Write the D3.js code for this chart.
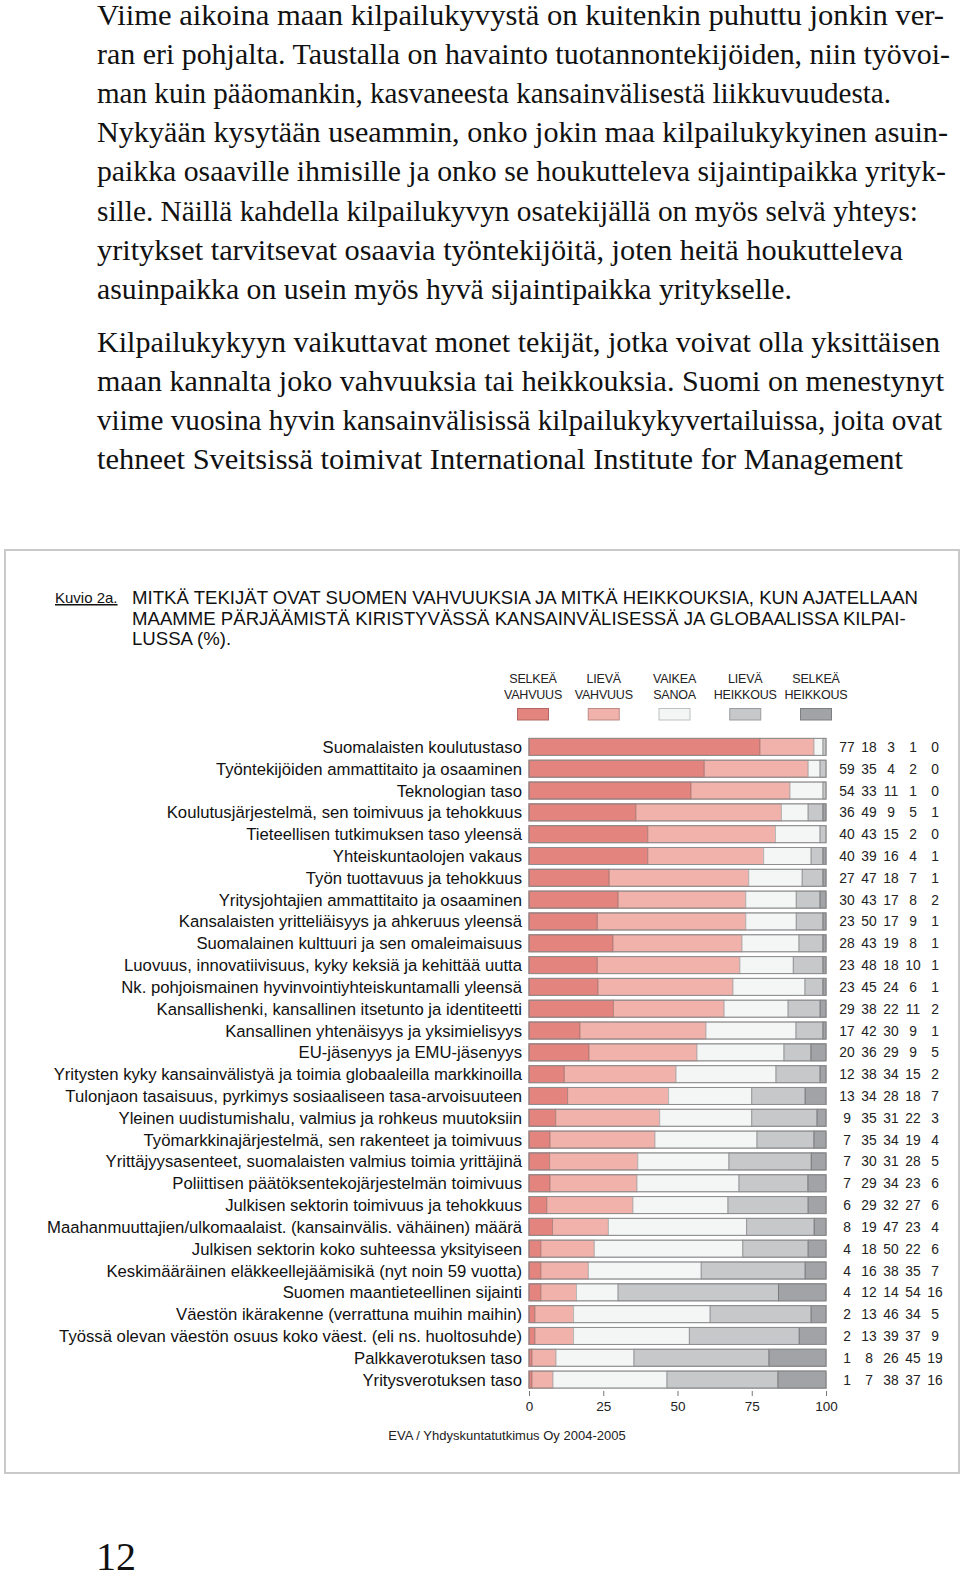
<!DOCTYPE html>
<html>
<head>
<meta charset="utf-8">
<script src="https://cdn.jsdelivr.net/npm/d3@7"></script>
<style>
  body { margin: 0; background: #fff; }
  svg { display: block; }
</style>
</head>
<body>
<div id="page"></div>
<script>
// body text of the page (line by line, as typeset)
var para1 = [
  "Viime aikoina maan kilpailukyvystä on kuitenkin puhuttu jonkin ver-",
  "ran eri pohjalta. Taustalla on havainto tuotannontekijöiden, niin työvoi-",
  "man kuin pääomankin, kasvaneesta kansainvälisestä liikkuvuudesta.",
  "Nykyään kysytään useammin, onko jokin maa kilpailukykyinen asuin-",
  "paikka osaaville ihmisille ja onko se houkutteleva sijaintipaikka yrityk-",
  "sille. Näillä kahdella kilpailukyvyn osatekijällä on myös selvä yhteys:",
  "yritykset tarvitsevat osaavia työntekijöitä, joten heitä houkutteleva",
  "asuinpaikka on usein myös hyvä sijaintipaikka yritykselle."
]
var para2 = [
  "Kilpailukykyyn vaikuttavat monet tekijät, jotka voivat olla yksittäisen",
  "maan kannalta joko vahvuuksia tai heikkouksia. Suomi on menestynyt",
  "viime vuosina hyvin kansainvälisissä kilpailukykyvertailuissa, joita ovat",
  "tehneet Sveitsissä toimivat International Institute for Management"
]
// measured right edges of the typeset lines
var para1Ends = [944, 950, 891, 948, 946, 918, 903, 792]
var para2Ends = [940, 944, 942, 903]

var titleLines = [
  "MITKÄ TEKIJÄT OVAT SUOMEN VAHVUUKSIA JA MITKÄ HEIKKOUKSIA, KUN AJATELLAAN",
  "MAAMME PÄRJÄÄMISTÄ KIRISTYVÄSSÄ KANSAINVÄLISESSÄ JA GLOBAALISSA KILPAI-",
  "LUSSA (%)."
]

var seriesNames = [
  ["SELKEÄ", "VAHVUUS"],
  ["LIEVÄ", "VAHVUUS"],
  ["VAIKEA", "SANOA"],
  ["LIEVÄ", "HEIKKOUS"],
  ["SELKEÄ", "HEIKKOUS"]
]
var seriesKeys = ["sv", "lv", "vs", "lh", "sh"]
var seriesColors = ["#e4847f", "#f1b2ab", "#f4f5f5", "#c7c8ca", "#a2a3a6"]

var categories = [
  "Suomalaisten koulutustaso",
  "Työntekijöiden ammattitaito ja osaaminen",
  "Teknologian taso",
  "Koulutusjärjestelmä, sen toimivuus ja tehokkuus",
  "Tieteellisen tutkimuksen taso yleensä",
  "Yhteiskuntaolojen vakaus",
  "Työn tuottavuus ja tehokkuus",
  "Yritysjohtajien ammattitaito ja osaaminen",
  "Kansalaisten yritteliäisyys ja ahkeruus yleensä",
  "Suomalainen kulttuuri ja sen omaleimaisuus",
  "Luovuus, innovatiivisuus, kyky keksiä ja kehittää uutta",
  "Nk. pohjoismainen hyvinvointiyhteiskuntamalli yleensä",
  "Kansallishenki, kansallinen itsetunto ja identiteetti",
  "Kansallinen yhtenäisyys ja yksimielisyys",
  "EU-jäsenyys ja EMU-jäsenyys",
  "Yritysten kyky kansainvälistyä ja toimia globaaleilla markkinoilla",
  "Tulonjaon tasaisuus, pyrkimys sosiaaliseen tasa-arvoisuuteen",
  "Yleinen uudistumishalu, valmius ja rohkeus muutoksiin",
  "Työmarkkinajärjestelmä, sen rakenteet ja toimivuus",
  "Yrittäjyysasenteet, suomalaisten valmius toimia yrittäjinä",
  "Poliittisen päätöksentekojärjestelmän toimivuus",
  "Julkisen sektorin toimivuus ja tehokkuus",
  "Maahanmuuttajien/ulkomaalaist. (kansainvälis. vähäinen) määrä",
  "Julkisen sektorin koko suhteessa yksityiseen",
  "Keskimääräinen eläkkeellejäämisikä (nyt noin 59 vuotta)",
  "Suomen maantieteellinen sijainti",
  "Väestön ikärakenne (verrattuna muihin maihin)",
  "Työssä olevan väestön osuus koko väest. (eli ns. huoltosuhde)",
  "Palkkaverotuksen taso",
  "Yritysverotuksen taso"
]

var selkeaVahvuus  = [77, 59, 54, 36, 40, 40, 27, 30, 23, 28, 23, 23, 29, 17, 20, 12, 13,  9,  7,  7,  7,  6,  8,  4,  4,  4,  2,  2,  1,  1]
var lievaVahvuus   = [18, 35, 33, 49, 43, 39, 47, 43, 50, 43, 48, 45, 38, 42, 36, 38, 34, 35, 35, 30, 29, 29, 19, 18, 16, 12, 13, 13,  8,  7]
var vaikeaSanoa    = [ 3,  4, 11,  9, 15, 16, 18, 17, 17, 19, 18, 24, 22, 30, 29, 34, 28, 31, 34, 31, 34, 32, 47, 50, 38, 14, 46, 39, 26, 38]
var lievaHeikkous  = [ 1,  2,  1,  5,  2,  4,  7,  8,  9,  8, 10,  6, 11,  9,  9, 15, 18, 22, 19, 28, 23, 27, 23, 22, 35, 54, 34, 37, 45, 37]
var selkeaHeikkous = [ 0,  0,  0,  1,  0,  1,  1,  2,  1,  1,  1,  1,  2,  1,  5,  2,  7,  3,  4,  5,  6,  6,  4,  6,  7, 16,  5,  9, 19, 16]

var tickValues = [0, 25, 50, 75, 100]
var sourceText = "EVA / Yhdyskuntatutkimus Oy 2004-2005"
var pageNumber = "12"

var seriesValues = [selkeaVahvuus, lievaVahvuus, vaikeaSanoa, lievaHeikkous, selkeaHeikkous]
var table = categories.map(function(c, i) {
	var row = {cat: c}
	seriesKeys.forEach(function(k, j) { row[k] = seriesValues[j][i] })
	return row
})

var width = 960, height = 1580
var svg = d3.select("#page").append("svg")
    .attr("width", width)
    .attr("height", height)

var serif = "'Liberation Serif', 'DejaVu Serif', serif"
var sans = "'Liberation Sans', Arial, sans-serif"

// ---- body text
function drawPara(lines, ends, y0) {
	svg.append("g").selectAll("text")
		.data(lines)
		.enter()
		.append("text")
		.attr("x", 97)
		.attr("y", function(d, i) { return y0 + i * 39.1 })
		.attr("textLength", function(d, i) { return ends[i] - 97 })
		.attr("lengthAdjust", "spacingAndGlyphs")
		.style("font-family", serif)
		.style("font-size", "29px")
		.style("fill", "#111")
		.text(function(d) { return d })
}
drawPara(para1, para1Ends, 25)
drawPara(para2, para2Ends, 352)

// ---- chart frame
svg.append("rect")
    .attr("x", 5)
    .attr("y", 550)
    .attr("width", 954)
    .attr("height", 923)
    .style("fill", "#fff")
    .style("stroke", "#c9c9c9")
    .style("stroke-width", 2)

svg.append("text")
    .attr("x", 55)
    .attr("y", 603)
    .style("font-family", sans)
    .style("font-size", "15px")
    .style("text-decoration", "underline")
    .style("fill", "#111")
    .text("Kuvio 2a.")

svg.append("g").selectAll("text")
    .data(titleLines)
    .enter()
    .append("text")
    .attr("x", 132)
    .attr("y", function(d, i) { return 604 + i * 20.6 })
    .style("font-family", sans)
    .style("font-size", "18.6px")
    .style("fill", "#111")
    .text(function(d) { return d })

// ---- scales
var x = d3.scaleLinear().domain([0, 100]).range([529, 826])
var y = d3.scaleBand().domain(categories).range([736, 1390.5]).paddingInner(0.22).paddingOuter(0.11)
var col = d3.scalePoint().domain(seriesKeys).range([847, 935])
var legendX = d3.scalePoint().domain(seriesKeys).range([533, 816])

// ---- legend
var legend = svg.append("g").selectAll(".legend")
    .data(seriesKeys)
    .enter()
    .append("g")
    .attr("class", "legend")
    .attr("transform", function(d) { return "translate(" + legendX(d) + ",0)" })

legend.selectAll("text")
    .data(function(d, i) { return seriesNames[i] })
    .enter()
    .append("text")
    .attr("y", function(d, i) { return 683 + i * 16 })
    .attr("text-anchor", "middle")
    .style("font-family", sans)
    .style("font-size", "12.5px")
    .style("letter-spacing", "-0.2px")
    .style("fill", "#222")
    .text(function(d) { return d })

legend.append("rect")
    .attr("x", -15.5)
    .attr("y", 708.5)
    .attr("width", 31)
    .attr("height", 11.5)
    .style("fill", function(d, i) { return seriesColors[i] })
    .style("stroke", function(d, i) { return d3.color(seriesColors[i]).darker(0.7) })
    .style("stroke-width", 1)

// ---- bars
var stack = d3.stack().keys(seriesKeys).offset(d3.stackOffsetExpand)
var stacked = stack(table)

svg.append("g").selectAll("g")
    .data(stacked)
    .enter()
    .append("g")
    .style("fill", function(d, i) { return seriesColors[i] })
    .style("stroke", function(d, i) { return d3.color(seriesColors[i]).darker(0.8) })
    .style("stroke-width", 1)
    .selectAll("rect")
    .data(function(d) { return d })
    .enter()
    .append("rect")
    .attr("x", function(d) { return x(d[0] * 100) })
    .attr("y", function(d) { return y(d.data.cat) })
    .attr("width", function(d) { return x(d[1] * 100) - x(d[0] * 100) })
    .attr("height", y.bandwidth())

svg.append("g").selectAll("rect")
    .data(categories)
    .enter()
    .append("rect")
    .attr("x", x(0))
    .attr("y", function(d) { return y(d) })
    .attr("width", x(100) - x(0))
    .attr("height", y.bandwidth())
    .style("fill", "none")
    .style("stroke", "#8e8e90")
    .style("stroke-width", 1)

// ---- category labels
svg.append("g").selectAll("text")
    .data(categories)
    .enter()
    .append("text")
    .attr("x", 522)
    .attr("y", function(d) { return y(d) + y.bandwidth() / 2 + 6 })
    .attr("text-anchor", "end")
    .style("font-family", sans)
    .style("font-size", "16.7px")
    .style("fill", "#111")
    .text(function(d) { return d })

// ---- value columns
var cells = []
table.forEach(function(row) {
	seriesKeys.forEach(function(k) { cells.push({cat: row.cat, key: k, v: row[k]}) })
})
svg.append("g").selectAll("text")
    .data(cells)
    .enter()
    .append("text")
    .attr("x", function(d) { return col(d.key) })
    .attr("y", function(d) { return y(d.cat) + y.bandwidth() / 2 + 5 })
    .attr("text-anchor", "middle")
    .style("font-family", sans)
    .style("font-size", "13.8px")
    .style("fill", "#222")
    .text(function(d) { return d.v })

// ---- x axis
var axis = svg.append("g")
    .attr("transform", "translate(0," + 1391 + ")")
    .call(d3.axisBottom(x).tickValues(tickValues).tickSize(5).tickPadding(5))
axis.select(".domain").remove()
axis.selectAll("line").style("stroke", "#777")
axis.selectAll("text")
    .style("font-family", sans)
    .style("font-size", "13.5px")
    .style("fill", "#222")

svg.append("text")
    .attr("x", 507)
    .attr("y", 1440)
    .attr("text-anchor", "middle")
    .style("font-family", sans)
    .style("font-size", "13px")
    .style("fill", "#222")
    .text(sourceText)

svg.append("text")
    .attr("x", 96)
    .attr("y", 1570)
    .style("font-family", serif)
    .style("font-size", "40px")
    .style("fill", "#111")
    .text(pageNumber)
</script>
</body>
</html>
